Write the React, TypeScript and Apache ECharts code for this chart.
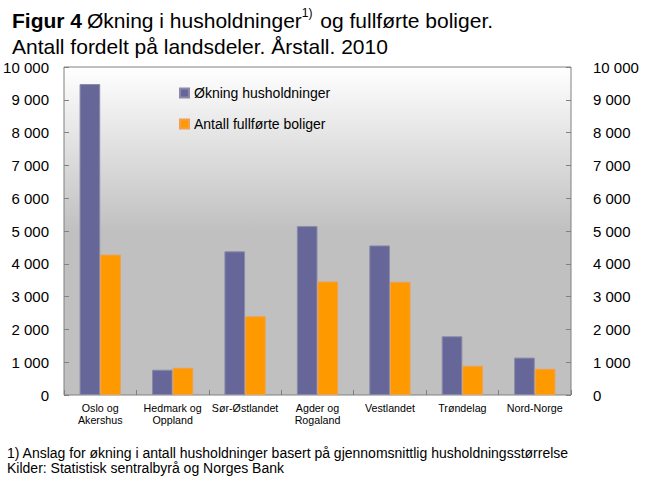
import React, { useEffect, useRef } from "react";
import * as echarts from "echarts";

const categories = [
  "Oslo og\nAkershus",
  "Hedmark og\nOppland",
  "Sør-Østlandet",
  "Agder og\nRogaland",
  "Vestlandet",
  "Trøndelag",
  "Nord-Norge",
];
const householdGrowth = [9480, 770, 4380, 5150, 4560, 1790, 1140];
const completedDwellings = [4280, 830, 2400, 3460, 3450, 890, 800];
const seriesNames = ["Økning husholdninger", "Antall fullførte boliger"];
const footnotes = [
  "1) Anslag for økning i antall husholdninger basert på gjennomsnittlig husholdningsstørrelse",
  "Kilder: Statistisk sentralbyrå og Norges Bank",
];

const FONT = "'Liberation Sans', Arial, sans-serif";

const fmt = (v: number) => {
  const s = String(Math.round(v));
  return s.replace(/\B(?=(\d{3})+(?!\d))/g, " ");
};

export default function App() {
  const ref = useRef<HTMLDivElement>(null);
  useEffect(() => {
    document.body.style.margin = "0";
    if (!ref.current) return;
    const chart = echarts.init(ref.current, null, { renderer: "svg" });
    const yAxisCommon = {
      type: "value",
      min: 0,
      max: 10000,
      interval: 1000,
      axisLine: { show: false },
      axisTick: { show: true, inside: true, length: 5, lineStyle: { color: "#808080" } },
      splitLine: { show: false },
      axisLabel: {
        formatter: fmt,
        fontFamily: FONT,
        fontSize: 15,
        color: "#000",
      },
    };
    chart.setOption({
      animation: false,
      backgroundColor: "#fff",
      textStyle: { fontFamily: FONT },
      title: [
        {
          text:
            "{b|Figur 4} {n|Økning i husholdninger}{sup|1)}{n| og fullførte boliger.}\n{n|Antall fordelt på landsdeler. Årstall. 2010}",
          left: 7,
          top: 2,
          textStyle: {
            fontWeight: "normal",
            rich: {
              b: { fontFamily: FONT, fontSize: 21, fontWeight: "bold", color: "#000", lineHeight: 26 },
              n: { fontFamily: FONT, fontSize: 21, fontWeight: "normal", color: "#000", lineHeight: 26 },
              sup: { fontFamily: FONT, fontSize: 12, fontWeight: "normal", color: "#000", lineHeight: 26, verticalAlign: "top", padding: [0, 2, 10, 0] },
            },
          },
        },
        ...footnotes.map((t, i) => ({
          text: t,
          left: 7,
          top: 445 + i * 15,
          padding: 0,
          textStyle: { fontFamily: FONT, fontSize: 14, fontWeight: "normal", color: "#000", lineHeight: 15 },
        })),
      ],
      legend: {
        orient: "vertical",
        left: 174,
        top: 81,
        itemWidth: 9,
        itemHeight: 9,
        itemGap: 17,
        icon: "rect",
        textStyle: { fontFamily: FONT, fontSize: 14, color: "#000" },
        data: seriesNames,
      },
      grid: {
        left: 64,
        right: 74,
        top: 67,
        bottom: 86,
        show: true,
        borderColor: "#808080",
        borderWidth: 1,
        backgroundColor: {
          type: "linear",
          x: 0,
          y: 0,
          x2: 0,
          y2: 1,
          colorStops: [
            { offset: 0, color: "#ffffff" },
            { offset: 0.5, color: "#c0c0c0" },
            { offset: 1, color: "#c0c0c0" },
          ],
        },
      },
      xAxis: {
        type: "category",
        data: categories,
        axisLine: { show: false },
        axisTick: { show: true, inside: true, length: 5, lineStyle: { color: "#808080" } },
        axisLabel: {
          fontFamily: FONT,
          fontSize: 10.7,
          color: "#000",
          lineHeight: 12,
          margin: 7,
          interval: 0,
        },
      },
      yAxis: [
        { ...yAxisCommon, position: "left", axisLabel: { ...yAxisCommon.axisLabel, margin: 15 } },
        { ...yAxisCommon, position: "right", axisLabel: { ...yAxisCommon.axisLabel, margin: 22 } },
      ],
      series: [
        {
          name: seriesNames[0],
          type: "bar",
          data: householdGrowth,
          barGap: "0%",
          barCategoryGap: "43%",
          itemStyle: { color: "#666699", borderColor: "#8a8aa8", borderWidth: 1 },
        },
        {
          name: seriesNames[1],
          type: "bar",
          data: completedDwellings,
          barGap: "0%",
          barCategoryGap: "43%",
          itemStyle: { color: "#ff9900", borderColor: "#f0a050", borderWidth: 1 },
        },
      ],
    });
    return () => chart.dispose();
  }, []);
  return <div ref={ref} style={{ width: 645, height: 481 }} />;
}
